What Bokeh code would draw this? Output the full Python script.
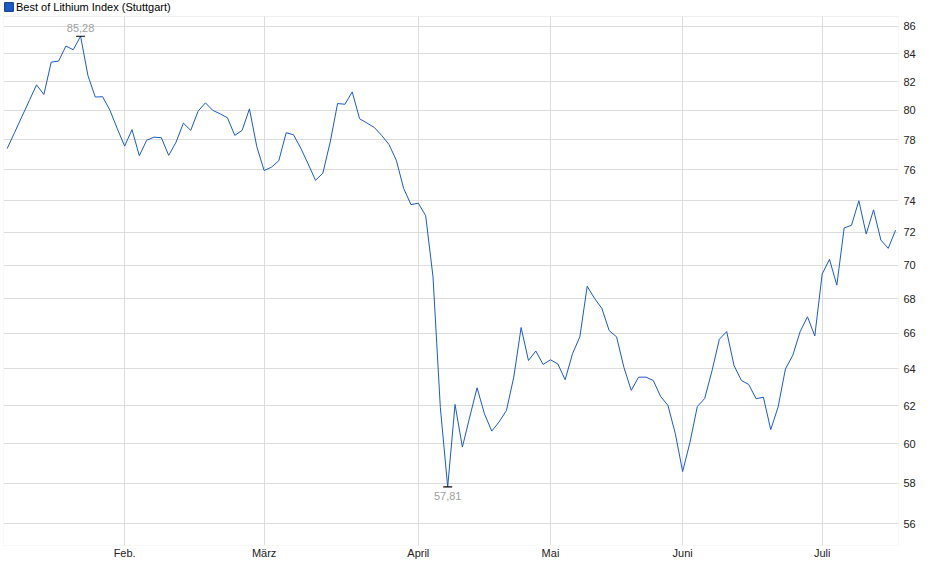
import math
from bokeh.plotting import figure
from bokeh.models import (Range1d, FixedTicker, PrintfTickFormatter, Legend,
                          LegendItem, ColumnDataSource, BoxAnnotation)
from bokeh.core.properties import value
from bokeh.embed import file_html
from bokeh.resources import INLINE

# ---------------- data ----------------
series_name = "Best of Lithium Index (Stuttgart)"

prices = [
    77.40, 78.47, 79.56, 80.66, 81.78, 81.10, 83.40, 83.47, 84.56, 84.29,
    85.28, 82.44, 80.92, 80.95, 80.00, 78.74, 77.57, 78.68, 76.93, 77.96,
    78.17, 78.13, 76.95, 77.83, 79.12, 78.63, 79.94, 80.52, 80.00, 79.76,
    79.49, 78.29, 78.63, 80.10, 77.53, 75.95, 76.17, 76.60, 78.47, 78.33,
    77.42, 76.38, 75.31, 75.78, 77.85, 80.47, 80.42, 81.28, 79.42, 79.13,
    78.83, 78.29, 77.68, 76.63, 74.79, 73.75, 73.84, 73.05, 69.30, 61.90,
    57.81, 62.07, 59.83, 61.40, 62.97, 61.58, 60.66, 61.14, 61.75, 63.55,
    66.33, 64.47, 65.00, 64.25, 64.51, 64.28, 63.41, 64.85, 65.80, 68.73,
    68.02, 67.43, 66.15, 65.80, 64.09, 62.83, 63.55, 63.55, 63.37, 62.50,
    62.02, 60.53, 58.58, 60.08, 61.96, 62.39, 63.90, 65.66, 66.10, 64.19,
    63.37, 63.15, 62.38, 62.46, 60.74, 61.93, 64.00, 64.76, 66.09, 66.95,
    65.85, 69.46, 70.35, 68.80, 72.28, 72.45, 74.00, 71.90, 73.42, 71.53,
    71.02, 72.14,
]

month_labels = ["Feb.", "März", "April", "Mai", "Juni", "Juli"]
month_start_idx = [16, 35, 56, 74, 92, 111]
y_ticks = list(range(56, 87, 2))

# ---------------- styling / layout ----------------
LINE_COLOR = "#1c5ac8"
GRID_COLOR = "#dddddd"
BORDER_COLOR = "#cccccc"
FONT = "Liberation Sans"

W, H = 924, 563
LEFT, RIGHT, BOTTOM = 3, 26, 18
FRAME_H = H - BOTTOM            # frame reaches the top; a header strip is masked
HEADER = 16                      # px of header strip above the plot area
Y_LO, Y_HI = 54.96, 86.745       # visible value range of the plot area
# extend the log range so that the header strip sits above Y_HI
Y_TOP = math.exp(math.log(Y_HI) + (math.log(Y_HI) - math.log(Y_LO)) * HEADER / (FRAME_H - HEADER))

idx = list(range(len(prices)))

p = figure(width=W, height=H, output_backend="svg", toolbar_location=None,
           y_axis_type="log", y_axis_location="right",
           x_range=Range1d(-0.5, len(prices) - 0.6),
           y_range=Range1d(Y_LO, Y_TOP),
           min_border_left=LEFT, min_border_right=RIGHT,
           min_border_top=0, min_border_bottom=BOTTOM)

p.background_fill_color = "white"
p.border_fill_color = "white"
p.outline_line_color = None

# grids
p.xgrid.ticker = FixedTicker(ticks=month_start_idx, minor_ticks=[])
p.ygrid.ticker = FixedTicker(ticks=y_ticks, minor_ticks=[])
for g in (p.xgrid, p.ygrid):
    g.grid_line_color = GRID_COLOR
    g.grid_line_width = 1

# axes
p.xaxis.ticker = FixedTicker(ticks=month_start_idx, minor_ticks=[])
p.xaxis.major_label_overrides = {i: lab for i, lab in zip(month_start_idx, month_labels)}
p.yaxis.ticker = FixedTicker(ticks=y_ticks, minor_ticks=[])
p.yaxis.formatter = PrintfTickFormatter(format="%d")
for ax in (p.xaxis, p.yaxis):
    ax.axis_line_color = None
    ax.major_tick_line_color = None
    ax.minor_tick_line_color = None
    ax.major_tick_out = 0
    ax.major_tick_in = 0
    ax.major_label_text_font = FONT
    ax.major_label_text_font_size = "11px"
    ax.major_label_text_color = "#222222"
p.xaxis.major_label_standoff = 1
p.yaxis.major_label_standoff = 5

# header strip mask and plot-area border
p.add_layout(BoxAnnotation(bottom=Y_HI, fill_color="white", fill_alpha=1.0,
                           line_color=None))
p.add_layout(BoxAnnotation(top=Y_HI, fill_alpha=0.0, line_color=BORDER_COLOR,
                           line_width=1))

# main line
p.line(idx, prices, line_color=LINE_COLOR, line_width=1)

# high / low markers and labels
peak_i = max(idx, key=lambda i: prices[i])
low_i = min(idx, key=lambda i: prices[i])

def fmt(v):
    return f"{v:.2f}".replace(".", ",")

p.scatter([peak_i, low_i], [prices[peak_i], prices[low_i]], marker="dash",
          size=9, line_color="#000000", line_width=1.2)

peak_src = ColumnDataSource(dict(x=[peak_i], y=[prices[peak_i]], t=[fmt(prices[peak_i])]))
low_src = ColumnDataSource(dict(x=[low_i], y=[prices[low_i]], t=[fmt(prices[low_i])]))
p.text(x="x", y="y", text="t", source=peak_src, text_align="center",
       text_baseline="bottom", y_offset=-4, text_font=value(FONT),
       text_font_size="11px", text_color="#a0a0a0")
p.text(x="x", y="y", text="t", source=low_src, text_align="center",
       text_baseline="top", y_offset=5, text_font=value(FONT),
       text_font_size="11px", text_color="#a0a0a0")

# legend (title line) in the header strip; the swatch renderer holds one
# undefined (NaN) box so that it draws nothing in the plot, only the key
nan = float("nan")
swatch = p.quad(left=[nan], right=[nan], top=[nan], bottom=[nan],
                fill_color=LINE_COLOR, line_color="#0d3a8a")
legend = Legend(items=[LegendItem(label=series_name, renderers=[swatch])],
                location=(0, FRAME_H - 12.5), orientation="horizontal",
                margin=0, padding=0, spacing=0,
                glyph_width=11, glyph_height=11, label_height=11,
                label_standoff=2, label_text_font=FONT,
                label_text_font_size="11px", label_text_color="#000000",
                border_line_color=None, background_fill_alpha=0)
p.add_layout(legend, "center")

open("out.html", "w").write(file_html(p, INLINE))
